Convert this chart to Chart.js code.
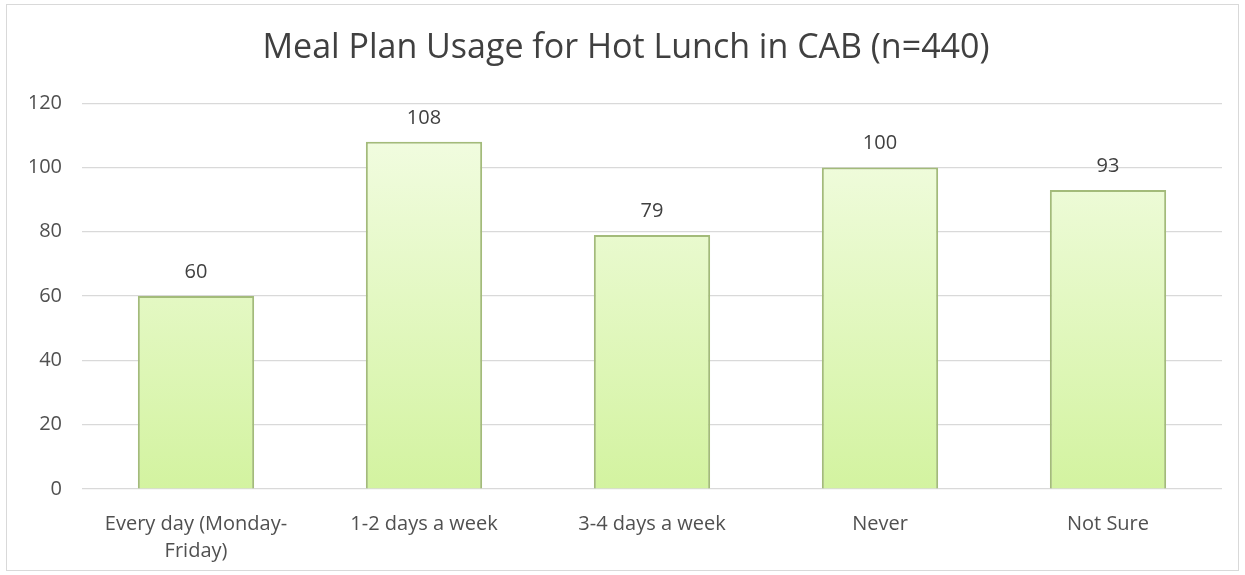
<!DOCTYPE html>
<html><head><meta charset="utf-8">
<script src="https://cdn.jsdelivr.net/npm/chart.js@4/dist/chart.umd.min.js"></script>
<style>
html,body{margin:0;padding:0;background:#fff;}
#frame{position:absolute;left:6px;top:4px;width:1231px;height:565px;border:1px solid #d9d9d9;}
#wrap{position:absolute;left:0;top:0;width:1245px;height:575px;}
</style></head>
<body>
<div id="frame"></div>
<div id="wrap"><canvas id="c" width="1245" height="575"></canvas></div>
<script>
const categories = [["Every day (Monday-","Friday)"], "1-2 days a week", "3-4 days a week", "Never", "Not Sure"];
const values = [60, 108, 79, 100, 93];
const yTicks = [0, 20, 40, 60, 80, 100, 120];
const titleText = "Meal Plan Usage for Hot Lunch in CAB (n=440)";

const FONT = "'Open Sans', sans-serif";

const valueLabels = {
  id: 'valueLabels',
  afterDatasetsDraw(chart) {
    const ctx = chart.ctx;
    const meta = chart.getDatasetMeta(0);
    ctx.save();
    ctx.font = "20px " + FONT;
    ctx.fillStyle = '#404040';
    ctx.textAlign = 'center';
    ctx.textBaseline = 'alphabetic';
    meta.data.forEach((bar, i) => {
      ctx.fillText(String(values[i]), bar.x, bar.y - 18);
    });
    ctx.restore();
  }
};

const ctx = document.getElementById('c').getContext('2d');
new Chart(ctx, {
  type: 'bar',
  data: {
    labels: categories,
    datasets: [{
      data: values,
      backgroundColor: (c) => {
        const area = c.chart.chartArea;
        if (!area) return '#e4f8c4';
        const g = c.chart.ctx.createLinearGradient(0, area.top, 0, area.bottom);
        g.addColorStop(0, '#f4fde6');
        g.addColorStop(1, '#d3f3a0');
        return g;
      },
      borderColor: '#a3bb7a',
      borderWidth: 2,
      barPercentage: 0.51,
      categoryPercentage: 1.0
    }]
  },
  options: {
    responsive: false,
    animation: false,
    layout: { padding: { top: 28, left: 30, right: 23, bottom: 0 } },
    plugins: {
      legend: { display: false },
      tooltip: { enabled: false },
      title: {
        display: true,
        text: titleText,
        color: '#404040',
        font: { family: FONT, size: 34, weight: 'normal', lineHeight: 1.18 },
        padding: { top: 0, bottom: 35 }
      }
    },
    scales: {
      x: {
        grid: { display: false },
        border: { display: false },
        ticks: {
          color: '#505050',
          font: { family: FONT, size: 20, lineHeight: 1.35 },
          padding: 14,
          maxRotation: 0,
          autoSkip: false
        },
        afterFit: (s) => { s.height = 86; }
      },
      y: {
        min: 0, max: 120,
        afterBuildTicks: (s) => { s.ticks = yTicks.map(v => ({ value: v })); },
        grid: { color: '#d9d9d9', drawTicks: false, lineWidth: 1.2 },
        border: { display: false },
        ticks: {
          color: '#505050',
          font: { family: FONT, size: 20 },
          padding: 20
        },
        afterFit: (s) => { s.width = 52; }
      }
    }
  },
  plugins: [valueLabels]
});
</script>
</body></html>
